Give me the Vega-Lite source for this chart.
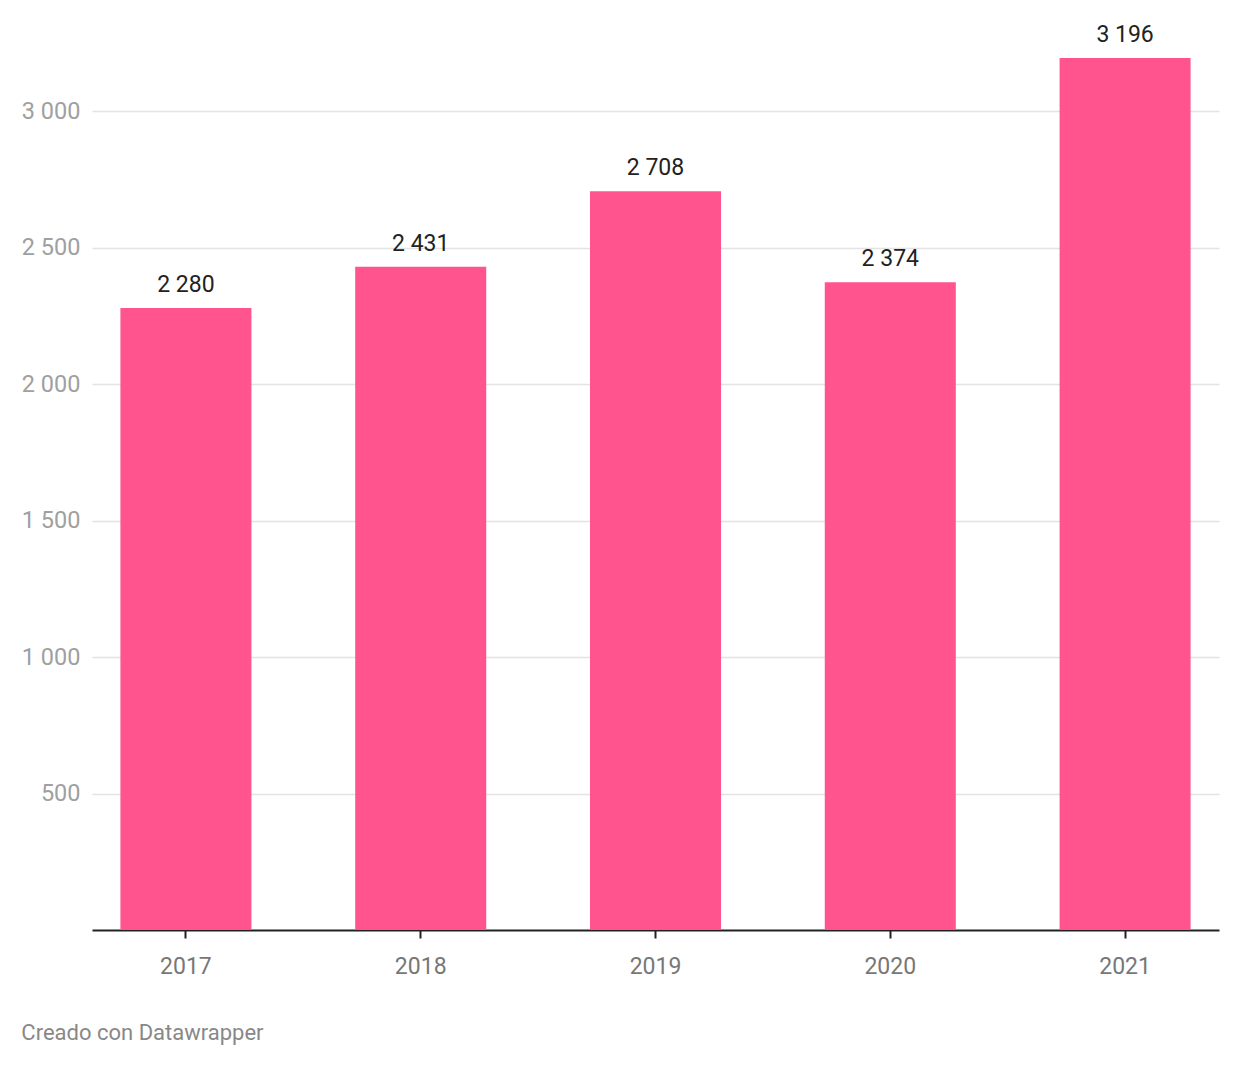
{
  "$schema": "https://vega.github.io/schema/vega-lite/v6.json",
  "autosize": {"type": "none"},
  "padding": {"left": 92, "top": 58, "right": 21, "bottom": 136},
  "width": 1127,
  "height": 872,
  "background": "white",
  "config": {
    "font": "Roboto",
    "view": {"stroke": null}
  },
  "title": {
    "text": "Creado con Datawrapper",
    "orient": "bottom",
    "anchor": "start",
    "frame": "bounds",
    "font": "Roboto",
    "fontSize": 22,
    "fontWeight": "normal",
    "color": "#888888",
    "offset": 45
  },
  "data": {
    "values": [
      {"year": "2017", "value": 2280},
      {"year": "2018", "value": 2431},
      {"year": "2019", "value": 2708},
      {"year": "2020", "value": 2374},
      {"year": "2021", "value": 3196}
    ]
  },
  "encoding": {
    "x": {
      "field": "year",
      "type": "ordinal",
      "title": null,
      "scale": {"paddingInner": 0.442, "paddingOuter": 0.121},
      "axis": {
        "labelAngle": 0,
        "labelFontSize": 23,
        "labelColor": "#777777",
        "labelPadding": 17,
        "domainColor": "#222222",
        "domainWidth": 2,
        "tickColor": "#222222",
        "tickWidth": 2,
        "tickSize": 8,
        "grid": false
      }
    },
    "y": {
      "field": "value",
      "type": "quantitative",
      "title": null,
      "scale": {"domain": [0, 3196], "nice": false, "zero": true},
      "axis": {
        "values": [500, 1000, 1500, 2000, 2500, 3000],
        "labelExpr": "replace(format(datum.value, ','), ',', ' ')",
        "labelFontSize": 23.5,
        "labelColor": "#a0a0a0",
        "labelPadding": 12,
        "domain": false,
        "ticks": false,
        "gridColor": "#e3e3e3",
        "gridWidth": 1.5
      }
    }
  },
  "layer": [
    {
      "mark": {"type": "bar", "color": "#FF548D"}
    },
    {
      "mark": {
        "type": "text",
        "baseline": "bottom",
        "dy": -11,
        "fontSize": 23,
        "color": "#222222"
      },
      "encoding": {
        "text": {"field": "lbl", "type": "nominal"}
      },
      "transform": [
        {"calculate": "replace(format(datum.value, ','), ',', ' ')", "as": "lbl"}
      ]
    }
  ]
}
